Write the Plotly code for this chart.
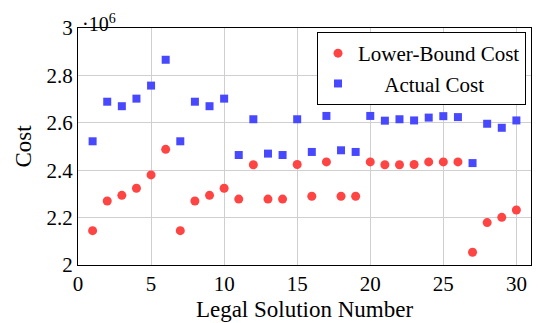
import plotly.graph_objects as go

solution_numbers = list(range(1, 31))
lower_bound_cost = [2.145, 2.270, 2.294, 2.324, 2.380, 2.488, 2.145, 2.270, 2.294, 2.324,
                    2.278, 2.423, 2.278, 2.278, 2.424, 2.290, 2.435, 2.290, 2.290, 2.435,
                    2.423, 2.423, 2.424, 2.435, 2.435, 2.435, 2.054, 2.179, 2.201, 2.232]
actual_cost = [2.522, 2.689, 2.670, 2.702, 2.757, 2.866, 2.522, 2.689, 2.670, 2.702,
               2.464, 2.615, 2.470, 2.464, 2.615, 2.477, 2.629, 2.484, 2.477, 2.629,
               2.609, 2.615, 2.610, 2.622, 2.628, 2.624, 2.430, 2.596, 2.579, 2.610]
x_ticks = [0, 5, 10, 15, 20, 25, 30]
y_ticks = [2.0, 2.2, 2.4, 2.6, 2.8, 3.0]
y_tick_labels = ["2", "2.2", "2.4", "2.6", "2.8", "3"]

FONT = "'Liberation Serif', 'DejaVu Serif', serif"
fig = go.Figure()
fig.add_trace(go.Scatter(x=solution_numbers, y=lower_bound_cost, mode="markers",
                         name="Lower-Bound Cost",
                         marker=dict(symbol="circle", size=9, color="rgb(255,68,68)",
                                     line=dict(width=0))))
fig.add_trace(go.Scatter(x=solution_numbers, y=actual_cost, mode="markers",
                         name="\u00a0\u00a0\u00a0\u00a0\u00a0Actual Cost",
                         marker=dict(symbol="square", size=8, color="rgb(72,72,255)",
                                     line=dict(width=0))))

# page body has an 8px margin, so the figure is placed at (8, 8)
fig.update_layout(
    width=532, height=315,
    margin=dict(l=70, r=9, t=20, b=58, autoexpand=False),
    paper_bgcolor="white", plot_bgcolor="white",
    font=dict(family=FONT, size=20, color="black"),
    showlegend=True,
    legend=dict(x=0.989, y=0.983, xanchor="right", yanchor="top",
                bordercolor="black", borderwidth=1, bgcolor="white",
                font=dict(family=FONT, size=21),
                itemwidth=30, tracegroupgap=0),
    xaxis=dict(range=[0, 31], tickvals=x_ticks, showgrid=True, gridcolor="#cfcfcf",
               gridwidth=1, showline=True, linecolor="black", linewidth=1, mirror=True,
               ticks="", zeroline=False, automargin=False,
               title=dict(text="Legal Solution Number", standoff=5, font=dict(family=FONT, size=23)),
               tickfont=dict(family=FONT, size=21)),
    yaxis=dict(range=[2, 3], tickvals=y_ticks, ticktext=y_tick_labels, showgrid=True,
               gridcolor="#cfcfcf", gridwidth=1, showline=True, linecolor="black",
               linewidth=1, mirror=True, ticks="", zeroline=False, automargin=False,
               title=dict(text="Cost", standoff=8, font=dict(family=FONT, size=23)),
               tickfont=dict(family=FONT, size=21)),
)
fig.add_annotation(text="\u00b710<sup>6</sup>", xref="paper", yref="paper", x=0.0, y=1.0,
                   xanchor="left", yanchor="bottom", showarrow=False,
                   font=dict(family=FONT, size=20), xshift=2, yshift=-9)
fig.write_html("out.html")
